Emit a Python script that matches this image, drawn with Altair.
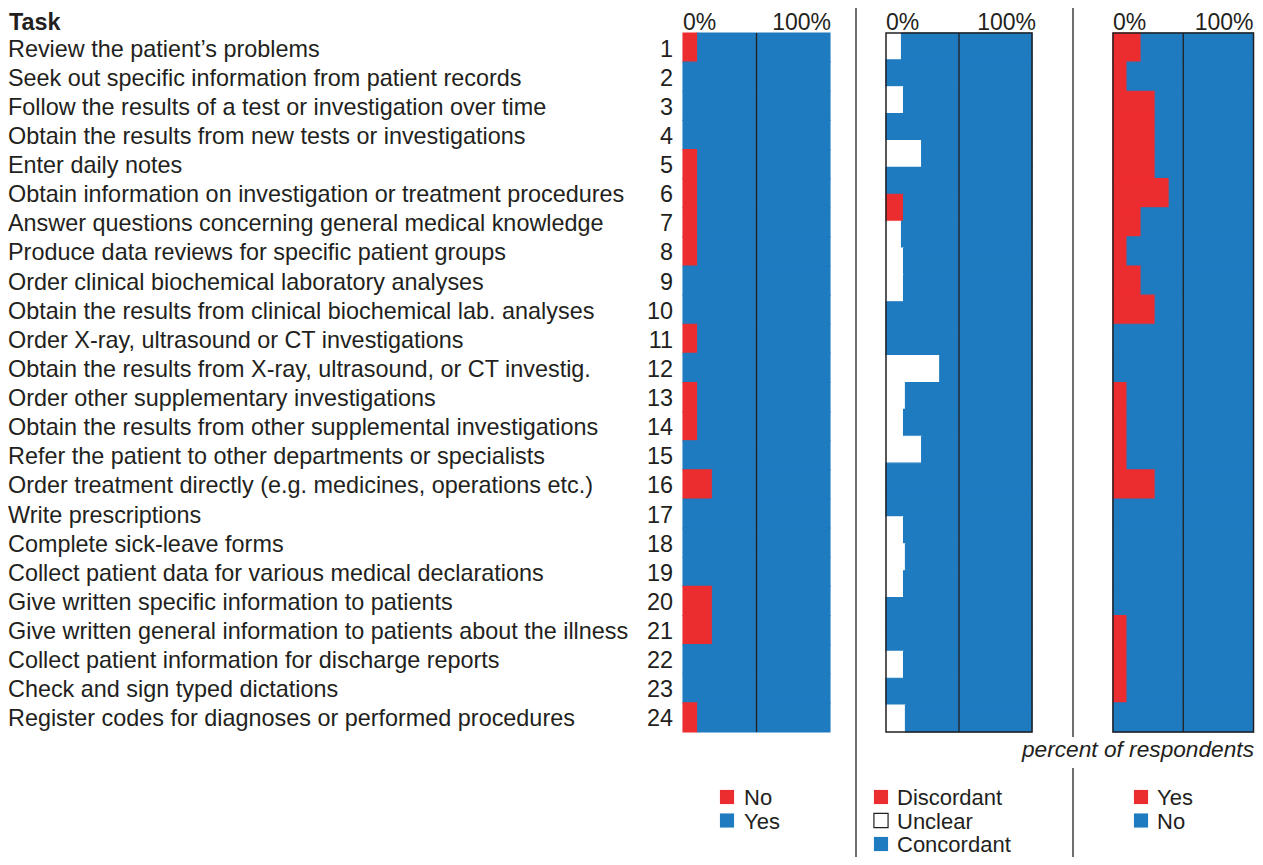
import altair as alt
import pandas as pd

# ---------------- data ----------------
tasks = [
    "Review the patient\u2019s problems",
    "Seek out specific information from patient records",
    "Follow the results of a test or investigation over time",
    "Obtain the results from new tests or investigations",
    "Enter daily notes",
    "Obtain information on investigation or treatment procedures",
    "Answer questions concerning general medical knowledge",
    "Produce data reviews for specific patient groups",
    "Order clinical biochemical laboratory analyses",
    "Obtain the results from clinical biochemical lab. analyses",
    "Order X-ray, ultrasound or CT investigations",
    "Obtain the results from X-ray, ultrasound, or CT investig.",
    "Order other supplementary investigations",
    "Obtain the results from other supplemental investigations",
    "Refer the patient to other departments or specialists",
    "Order treatment directly (e.g. medicines, operations etc.)",
    "Write prescriptions",
    "Complete sick-leave forms",
    "Collect patient data for various medical declarations",
    "Give written specific information to patients",
    "Give written general information to patients about the illness",
    "Collect patient information for discharge reports",
    "Check and sign typed dictations",
    "Register codes for diagnoses or performed procedures",
]
task_numbers = list(range(1, 25))

# panel 1: percent answering "No" (rest "Yes")
panel1_no = [10, 0, 0, 0, 10, 10, 10, 10, 0, 0, 10, 0, 10, 10, 0, 20, 0, 0, 0, 20, 20, 0, 0, 10]

# panel 2 (drawn as 26 bands in the original): Discordant / Unclear / Concordant
panel2_discordant = [0, 0, 0, 0, 0, 0, 12, 0, 0, 0, 0, 0, 0, 0, 0, 0, 0, 0, 0, 0, 0, 0, 0, 0, 0, 0]
panel2_unclear = [10.6, 0, 12, 0, 24.4, 0, 0, 10.6, 12, 12, 0, 0, 36.8, 13.3, 12, 24.4,
                  0, 0, 12, 13.3, 12, 0, 0, 12, 0, 13.3]

# panel 3: percent answering "Yes" (rest "No")
panel3_yes = [20, 10, 30, 30, 30, 40, 20, 10, 20, 30, 0, 0, 10, 10, 10, 30, 0, 0, 0, 0, 10, 10, 10, 0]

legend1 = ["No", "Yes"]
legend2 = ["Discordant", "Unclear", "Concordant"]
legend3 = ["Yes", "No"]
axis_labels = ["0%", "100%"]
x_title = "percent of respondents"

# ---------------- style ----------------
RED = "#EC2D2F"
BLUE = "#1F7BC0"
WHITE = "#FFFFFF"
INK = "#231F20"
FONT = "Liberation Sans"
FS = 23.4

TOP, BOTTOM = 25, 724  # plot band (chart coords)
X1 = [675, 822]
X2 = [878, 1024]
X3 = [1105, 1245.5]


def segments(first_vals, cats, second_vals=None):
    rows = []
    n = len(first_vals)
    for i in range(n):
        a = first_vals[i]
        b = second_vals[i] if second_vals is not None else 0
        parts = [(cats[0], 0, a)]
        if second_vals is not None:
            parts.append((cats[1], a, a + b))
            parts.append((cats[2], a + b, 100))
        else:
            parts.append((cats[1], a, 100))
        for c, s, e in parts:
            if e > s:
                rows.append({"row": i + 1, "cat": c, "start": s, "end": e})
    return pd.DataFrame(rows)


df1 = segments(panel1_no, ["No", "Yes"])
df2 = segments(panel2_discordant, ["Discordant", "Unclear", "Concordant"], panel2_unclear)
df3 = segments(panel3_yes, ["Yes", "No"])


def bar_layer(df, xr, nrows, dom, rng):
    return alt.Chart(df).mark_rect(strokeWidth=1.1).encode(
        x=alt.X("start:Q", scale=alt.Scale(domain=[0, 100], range=xr, nice=False, zero=False), axis=None),
        x2="end:Q",
        y=alt.Y("row:O", scale=alt.Scale(type="band", domain=list(range(1, nrows + 1)),
                                          range=[TOP, BOTTOM], paddingInner=0, paddingOuter=0), axis=None),
        color=alt.Color("cat:N", scale=alt.Scale(domain=dom, range=rng), legend=None),
        stroke=alt.Stroke("cat:N", scale=alt.Scale(domain=dom, range=rng), legend=None),
    )


one = pd.DataFrame({"a": [0]})


def xscale(xr):
    return alt.Scale(domain=[0, 100], range=xr, nice=False, zero=False)


def midline(xr):
    return alt.Chart(one).mark_rule(color=INK, strokeWidth=1.3).encode(
        x=alt.X("m:Q", scale=xscale(xr), axis=None), y=alt.value(TOP), y2=alt.value(BOTTOM)
    ).transform_calculate(m="50")


def frame(xr):
    return alt.Chart(one).mark_rect(fill=None, fillOpacity=0, stroke=INK, strokeWidth=1.5).encode(
        x=alt.X("l:Q", scale=xscale(xr), axis=None), x2="r:Q", y=alt.value(TOP), y2=alt.value(BOTTOM)
    ).transform_calculate(l="0", r="100")


HEAD_Y = 21.5


def headers(xr, dx_right):
    hdf = pd.DataFrame({"v": [0, 100], "label": axis_labels})
    left = alt.Chart(hdf).transform_filter("datum.v == 0").mark_text(
        align="left", baseline="alphabetic", font=FONT, fontSize=23, color=INK
    ).encode(x=alt.X("v:Q", scale=xscale(xr), axis=None), y=alt.value(HEAD_Y), text="label:N")
    right = alt.Chart(hdf).transform_filter("datum.v == 100").mark_text(
        align="right", baseline="alphabetic", font=FONT, fontSize=23, color=INK, dx=dx_right
    ).encode(x=alt.X("v:Q", scale=xscale(xr), axis=None), y=alt.value(HEAD_Y), text="label:N")
    return [left, right]


label_df = pd.DataFrame({"row": task_numbers, "task": tasks})
yscale24 = alt.Scale(type="point", domain=task_numbers, range=[TOP, BOTTOM], padding=0.5)

task_text = alt.Chart(label_df).mark_text(
    align="left", baseline="middle", font=FONT, fontSize=FS, color=INK, dy=2
).encode(x=alt.value(0), y=alt.Y("row:O", scale=yscale24, axis=None), text="task:N")

num_text = alt.Chart(label_df).mark_text(
    align="right", baseline="middle", font=FONT, fontSize=FS, color=INK, dy=2
).encode(x=alt.value(665), y=alt.Y("row:O", scale=yscale24, axis=None), text="row:N")

task_head = alt.Chart(pd.DataFrame({"t": ["Task"]})).mark_text(
    align="left", baseline="alphabetic", font=FONT, fontSize=FS, fontWeight="bold", color=INK
).encode(x=alt.value(1), y=alt.value(22), text="t:N")

xtitle = alt.Chart(pd.DataFrame({"t": [x_title]})).mark_text(
    align="right", baseline="middle", font=FONT, fontSize=22.7, fontStyle="italic", color=INK
).encode(x=alt.value(1246), y=alt.value(742), text="t:N")


def sep(x, y0, y1):
    return alt.Chart(one).mark_rule(color=INK, strokeWidth=1.3).encode(
        x=alt.value(x), y=alt.value(y0), y2=alt.value(y1)
    )


def legend(labels, dom, rng, xsq, xtxt):
    ldf = pd.DataFrame({"label": labels, "i": list(range(len(labels)))})
    ys_txt = alt.Scale(type="point", domain=[0, 1, 2], range=[797, 844], padding=0)
    ys_sq = alt.Scale(type="point", domain=[0, 1, 2], range=[789, 836], padding=0)
    sq = alt.Chart(ldf).mark_square(size=200, opacity=1, strokeWidth=1.2).encode(
        x=alt.value(xsq),
        y=alt.Y("i:O", scale=ys_sq, axis=None),
        color=alt.Color("label:N", scale=alt.Scale(domain=dom, range=rng), legend=None),
        stroke=alt.condition(alt.datum.label == "Unclear", alt.value(INK), alt.value("transparent")),
    )
    tx = alt.Chart(ldf).mark_text(
        align="left", baseline="alphabetic", font=FONT, fontSize=22, color=INK
    ).encode(x=alt.value(xtxt), y=alt.Y("i:O", scale=ys_txt, axis=None), text="label:N")
    return [sq, tx]


layers = [
    bar_layer(df1, X1, 24, ["No", "Yes"], [RED, BLUE]),
    bar_layer(df2, X2, 26, ["Discordant", "Unclear", "Concordant"], [RED, WHITE, BLUE]),
    bar_layer(df3, X3, 24, ["Yes", "No"], [RED, BLUE]),
    frame(X2),
    frame(X3),
    midline(X1),
    midline(X2),
    midline(X3),
    task_text,
    num_text,
    task_head,
    xtitle,
    sep(848, 0, 849),
    sep(1065, 0, 729),
    sep(1065, 760, 849),
]
layers += headers(X1, 1) + headers(X2, 4) + headers(X3, 0)
layers += legend(legend1, legend1, [RED, BLUE], 719, 736)
layers += legend(legend2, legend2, [RED, WHITE, BLUE], 873, 889)
layers += legend(legend3, legend3, [RED, BLUE], 1133, 1149)

chart = alt.layer(*layers).resolve_scale(
    x="independent", y="independent", color="independent", stroke="independent"
).properties(
    width=1247, height=849, autosize="none", padding=0
).configure_view(stroke=None)

chart.save("out.html", embed_options={"renderer": "svg", "actions": False})
